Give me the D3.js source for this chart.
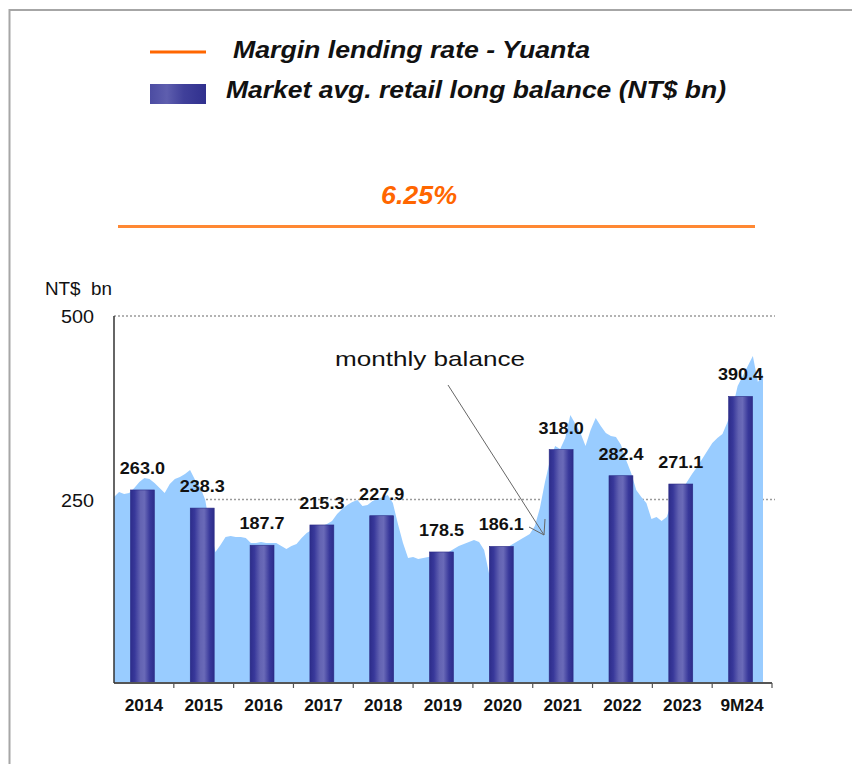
<!DOCTYPE html>
<html>
<head>
<meta charset="utf-8">
<script src="https://cdn.jsdelivr.net/npm/d3@7"></script>
<style>
  html, body { margin: 0; padding: 0; background: #ffffff; }
  svg { display: block; font-family: "Liberation Sans", Arial, Helvetica, sans-serif; }
</style>
</head>
<body>
<svg id="chart" width="852" height="764"></svg>
<script>
// ---------- data ----------
const years = ["2014", "2015", "2016", "2017", "2018", "2019", "2020", "2021", "2022", "2023", "9M24"];
const avgBalance = [263.0, 238.3, 187.7, 215.3, 227.9, 178.5, 186.1, 318.0, 282.4, 271.1, 390.4];
const yTickValues = [250, 500];
const marginRate = "6.25%";
const legendLabels = ["Margin lending rate - Yuanta", "Market avg. retail long balance (NT$ bn)"];
const unitLabel = "NT$  bn";
const annotationLabel = "monthly balance";
// monthly balance, Jan 2014 .. Sep 2024 (NT$ bn)
const monthlyBalance = [
  253.4, 260.2, 257.5, 258.9, 265.7, 273.8, 279.3, 277.9, 272.5, 265.7, 258.9, 271.1,
  277.9, 280.7, 284.7, 290.2, 276.6, 267.0, 249.3, 208.4, 178.5, 188.0, 198.9, 200.3,
  198.9, 198.9, 197.5, 190.7, 190.7, 192.1, 190.7, 190.7, 190.7, 186.6, 182.6, 186.6,
  189.4, 197.5, 204.4, 208.4, 211.2, 213.9, 216.6, 220.7, 230.2, 237.1, 242.5, 246.6,
  249.3, 241.1, 242.5, 248.0, 250.7, 253.4, 256.1, 245.2, 216.6, 190.7, 170.3, 171.7,
  168.9, 170.3, 171.7, 173.0, 174.4, 175.7, 178.5, 182.6, 186.6, 189.4, 192.1, 194.8,
  192.1, 181.2, 148.5, 170.3, 178.5, 182.6, 186.6, 190.7, 194.8, 198.9, 203.0, 213.9,
  238.4, 273.8, 303.8, 322.9, 318.8, 333.8, 365.1, 352.9, 340.6, 322.9, 344.7, 361.0,
  350.1, 340.6, 336.5, 335.1, 324.3, 303.8, 286.1, 262.9, 253.4, 245.2, 223.4, 226.2,
  220.7, 226.2, 245.2, 253.4, 262.9, 273.8, 284.7, 294.3, 305.2, 316.1, 327.0, 333.8,
  339.2, 355.6, 374.7, 404.6, 418.3, 431.9, 445.5, 410.1, 421.0
];

// ---------- layout ----------
const svg = d3.select("#chart");
const W = 852, H = 764;
const plot = { left: 114, right: 772, top: 316, bottom: 683 };

const x = d3.scaleBand().domain(years).range([plot.left, plot.right]).paddingInner(0).paddingOuter(0);
const y = d3.scaleLinear().domain([0, 500]).range([plot.bottom, plot.top]);
const xm = d3.scaleLinear().domain([0, monthlyBalance.length - 1]).range([plot.left, 763]);

// stretch text horizontally (the reference text is a little wider than the font)
function stretch(sel, factor) {
  sel.each(function () {
    const n = this.getComputedTextLength();
    d3.select(this).attr("textLength", n * factor).attr("lengthAdjust", "spacingAndGlyphs");
  });
  return sel;
}

// gradients
const defs = svg.append("defs");
const bg = defs.append("linearGradient").attr("id", "barGrad").attr("x1", "0").attr("x2", "1").attr("y1", "0").attr("y2", "0");
[[0, "#2d2d8a"], [0.18, "#38389a"], [0.42, "#6363b2"], [0.58, "#6a6ab8"], [0.82, "#38389a"], [1, "#2d2d8a"]]
  .forEach(([o, c]) => bg.append("stop").attr("offset", o).attr("stop-color", c));
const lg = defs.append("linearGradient").attr("id", "legGrad").attr("x1", "0").attr("x2", "1").attr("y1", "0").attr("y2", "0");
[[0, "#4c4ca2"], [0.3, "#5e5eae"], [0.6, "#40409a"], [1, "#30308e"]]
  .forEach(([o, c]) => lg.append("stop").attr("offset", o).attr("stop-color", c));

// frame (top + left)
svg.append("line").attr("x1", 9).attr("x2", W).attr("y1", 10).attr("y2", 10)
  .attr("stroke", "#a6a6a6").attr("stroke-width", 2);
svg.append("line").attr("x1", 9.5).attr("x2", 9.5).attr("y1", 9).attr("y2", H)
  .attr("stroke", "#a6a6a6").attr("stroke-width", 2);

// legend
const legend = svg.append("g");
legend.append("line").attr("x1", 150).attr("x2", 206).attr("y1", 52).attr("y2", 52)
  .attr("stroke", "#ff6600").attr("stroke-width", 3);
legend.append("text").attr("x", 233).attr("y", 58).text(legendLabels[0])
  .attr("font-size", 24).attr("font-weight", "bold").attr("font-style", "italic").attr("fill", "#111")
  .attr("textLength", 357).attr("lengthAdjust", "spacingAndGlyphs");
legend.append("rect").attr("x", 150).attr("y", 84).attr("width", 56).attr("height", 20)
  .attr("fill", "url(#legGrad)");
legend.append("text").attr("x", 226).attr("y", 98).text(legendLabels[1])
  .attr("font-size", 24).attr("font-weight", "bold").attr("font-style", "italic").attr("fill", "#111")
  .attr("textLength", 500).attr("lengthAdjust", "spacingAndGlyphs");

// margin rate
svg.append("text").attr("x", 381).attr("y", 204).text(marginRate)
  .attr("font-size", 25).attr("font-weight", "bold").attr("font-style", "italic").attr("fill", "#ff6600")
  .attr("textLength", 76).attr("lengthAdjust", "spacingAndGlyphs");
svg.append("line").attr("x1", 118).attr("x2", 755).attr("y1", 226.5).attr("y2", 226.5)
  .attr("stroke", "#ff8833").attr("stroke-width", 3);

// unit label
svg.append("text").attr("x", 45).attr("y", 295).text(unitLabel)
  .attr("font-size", 18).attr("fill", "#111").style("white-space", "pre")
  .attr("textLength", 67).attr("lengthAdjust", "spacingAndGlyphs");

// gridlines
svg.append("g").selectAll("line").data(yTickValues).join("line")
  .attr("x1", plot.left).attr("x2", 775)
  .attr("y1", d => y(d)).attr("y2", d => y(d))
  .attr("stroke", "#9a9a9a").attr("stroke-width", 1.5).attr("stroke-dasharray", "2,2");

// monthly area
const area = d3.area()
  .x((d, i) => xm(i))
  .y0(y(0))
  .y1(d => y(d));
svg.append("path").datum(monthlyBalance).attr("d", area).attr("fill", "#99ccff");

// bars
const barW = x.bandwidth() * 0.4;
svg.append("g").selectAll("rect").data(avgBalance).join("rect")
  .attr("x", (d, i) => x(years[i]) + x.bandwidth() / 2 - barW / 2 - 1.5)
  .attr("width", barW)
  .attr("y", d => y(d))
  .attr("height", d => y(0) - y(d))
  .attr("fill", "url(#barGrad)")
  .attr("stroke", "#2a2a85").attr("stroke-width", 0.6);

// bar labels
stretch(svg.append("g").selectAll("text").data(avgBalance).join("text")
  .attr("x", (d, i) => x(years[i]) + x.bandwidth() / 2 - 1.5)
  .attr("y", d => y(d) - 16)
  .attr("text-anchor", "middle")
  .attr("font-size", 17).attr("font-weight", "bold").attr("fill", "#111")
  .text(d => d.toFixed(1)), 1.06);

// x axis
svg.append("line").attr("x1", plot.left).attr("x2", plot.right).attr("y1", plot.bottom).attr("y2", plot.bottom)
  .attr("stroke", "#555").attr("stroke-width", 2);
svg.append("g").selectAll("line").data(years.slice(1).concat(["end"])).join("line")
  .attr("x1", (d, i) => i < years.length - 1 ? x(d) : plot.right)
  .attr("x2", (d, i) => i < years.length - 1 ? x(d) : plot.right)
  .attr("y1", plot.bottom).attr("y2", plot.bottom + 5)
  .attr("stroke", "#555").attr("stroke-width", 1.2);
stretch(svg.append("g").selectAll("text").data(years).join("text")
  .attr("x", d => x(d) + x.bandwidth() / 2)
  .attr("y", 711)
  .attr("text-anchor", "middle")
  .attr("font-size", 16).attr("font-weight", "bold").attr("fill", "#111")
  .text(d => d), 1.08);

// y axis
svg.append("line").attr("x1", plot.left).attr("x2", plot.left).attr("y1", y(500)).attr("y2", plot.bottom)
  .attr("stroke", "#333").attr("stroke-width", 1.5);
stretch(svg.append("g").selectAll("text").data(yTickValues).join("text")
  .attr("x", 94).attr("y", d => y(d)).attr("dy", "0.38em")
  .attr("text-anchor", "end").attr("font-size", 19).attr("fill", "#111")
  .text(d => d), 1.04);

// annotation
svg.append("text").attr("x", 335).attr("y", 366).text(annotationLabel)
  .attr("font-size", 21).attr("fill", "#111")
  .attr("textLength", 190).attr("lengthAdjust", "spacingAndGlyphs");
const ax0 = 448, ay0 = 385, ax1 = 544, ay1 = 535;
svg.append("line").attr("x1", ax0).attr("y1", ay0).attr("x2", ax1).attr("y2", ay1)
  .attr("stroke", "#666").attr("stroke-width", 1);
svg.append("path").attr("d", `M${ax1 - 15},${ay1 - 8} L${ax1},${ay1} L${ax1 + 1},${ay1 - 16}`)
  .attr("fill", "none").attr("stroke", "#666").attr("stroke-width", 1);
</script>
</body>
</html>
